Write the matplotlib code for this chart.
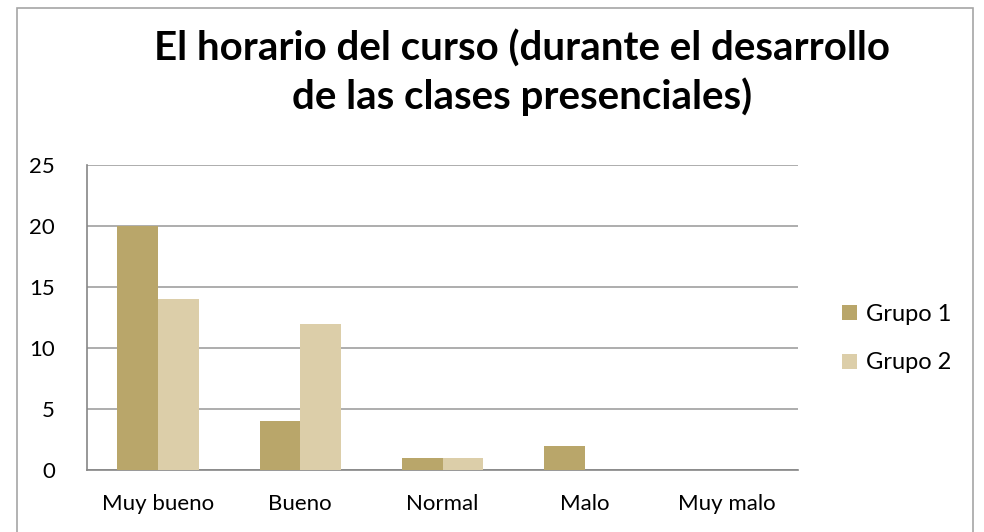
import matplotlib.pyplot as plt
import numpy as np
from matplotlib.patches import Rectangle

categories = ['Muy bueno', 'Bueno', 'Normal', 'Malo', 'Muy malo']
grupo_1 = [20, 4, 1, 2, 0]
grupo_2 = [14, 12, 1, 0, 0]
series_names = ['Grupo 1', 'Grupo 2']
colors = ['#B9A66A', '#DCCEA9']
yticks = [0, 5, 10, 15, 20, 25]
title = 'El horario del curso (durante el desarrollo\nde las clases presenciales)'

plt.rcParams['font.family'] = ['Lato', 'DejaVu Sans']

fig = plt.figure(figsize=(9.84, 5.32), dpi=100)
ax = fig.add_axes([87 / 984, 1 - 470 / 532, (798 - 87) / 984, (470 - 165) / 532])

# outer chart border
fig.patches.append(Rectangle((17 / 984, -0.01), (973 - 17) / 984, 1 - 8 / 532 + 0.01,
                             transform=fig.transFigure, fill=False,
                             edgecolor='#A6A6A6', linewidth=1.2))

x = np.arange(len(categories))
w = 1 / 3.5
ax.bar(x - w / 2, grupo_1, w, color=colors[0], label=series_names[0], zorder=3)
ax.bar(x + w / 2, grupo_2, w, color=colors[1], label=series_names[1], zorder=3)

ax.set_xlim(-0.5, len(categories) - 0.5)
ax.set_ylim(0, 25)
ax.set_yticks(yticks)
ax.set_xticks(x)
ax.set_xticklabels(categories, fontsize=16)
ax.tick_params(axis='y', labelsize=16, length=0, pad=23)
ax.tick_params(axis='x', length=0, pad=17)
ax.grid(axis='y', color='#A0A0A0', linewidth=1.2, zorder=0)
for s in ['top', 'right']:
    ax.spines[s].set_visible(False)
for s in ['left', 'bottom']:
    ax.spines[s].set_color('#868686')
    ax.spines[s].set_linewidth(1.2)

fig.text(522 / 984, 1 - 73 / 532, title, ha='center', va='center',
         fontsize=29, fontweight='bold', linespacing=1.32)

ax.legend(loc='center left', bbox_to_anchor=(1.032, 0.43), frameon=False,
          fontsize=17, handlelength=0.65, handleheight=0.6, labelspacing=1.15,
          handletextpad=0.35)

fig.savefig('out.png', dpi=100)
